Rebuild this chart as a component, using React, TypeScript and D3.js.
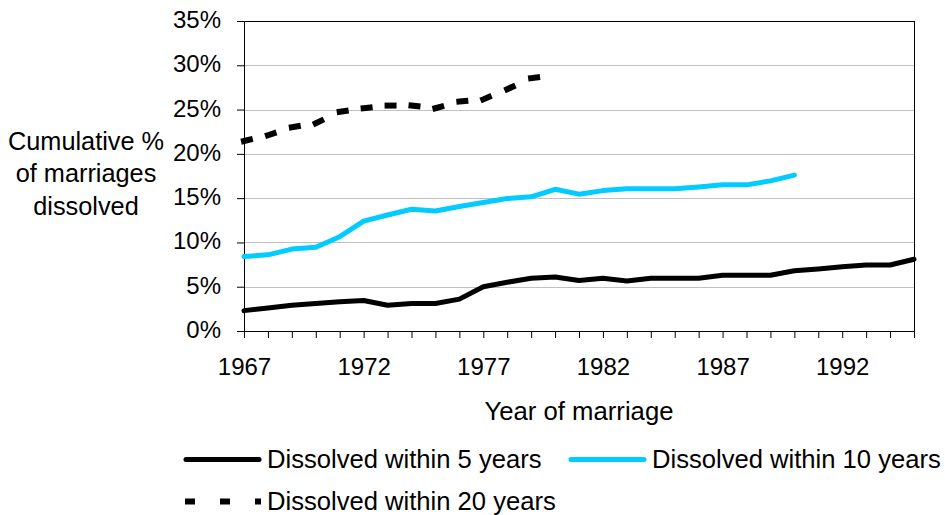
import React, { useEffect, useRef } from "react";
import * as d3 from "d3";

const years = [
  1967, 1968, 1969, 1970, 1971, 1972, 1973, 1974, 1975, 1976, 1977, 1978, 1979, 1980,
  1981, 1982, 1983, 1984, 1985, 1986, 1987, 1988, 1989, 1990, 1991, 1992, 1993, 1994, 1995,
];

// cumulative % of marriages dissolved, by year of marriage
const within5 = [
  2.3, 2.6, 2.9, 3.1, 3.3, 3.45, 2.9, 3.1, 3.1, 3.6, 5.0, 5.5, 5.95, 6.1,
  5.7, 5.95, 5.65, 5.95, 5.95, 5.95, 6.3, 6.3, 6.3, 6.8, 7.0, 7.25, 7.45, 7.45, 8.1,
];
const within10 = [
  8.4, 8.6, 9.25, 9.45, 10.65, 12.4, 13.1, 13.75, 13.55, 14.05, 14.5, 14.95, 15.15, 16.0,
  15.45, 15.85, 16.05, 16.05, 16.05, 16.25, 16.5, 16.5, 16.95, 17.6,
];
const within20 = [
  21.45, 22.1, 23.0, 23.45, 24.75, 25.15, 25.45, 25.45, 25.15, 25.9, 26.15, 27.3, 28.55, 28.9,
];

const yTicks = [0, 5, 10, 15, 20, 25, 30, 35];
const xTickLabels = [1967, 1972, 1977, 1982, 1987, 1992];
const titleLines = ["Cumulative %", "of marriages", "dissolved"];
const seriesNames = [
  "Dissolved within 5 years",
  "Dissolved within 10 years",
  "Dissolved within 20 years",
];

export default function App() {
  const svgRef = useRef<SVGSVGElement>(null);

  useEffect(() => {
    const font = "'Liberation Sans', Arial, sans-serif";
    const svg = d3.select(svgRef.current);
    svg.selectAll("*").remove();

    const x = d3.scaleLinear().domain([1967, 1995]).range([244, 914]);
    const y = d3.scaleLinear().domain([0, 35]).range([331, 21]);

    // gridlines
    svg
      .append("g")
      .selectAll("line")
      .data(yTicks.filter((t) => t > 0 && t < 35))
      .join("line")
      .attr("x1", x(1967))
      .attr("x2", x(1995))
      .attr("y1", (d) => Math.round(y(d)) + 0.5)
      .attr("y2", (d) => Math.round(y(d)) + 0.5)
      .attr("stroke", "#c0c0c0");

    // plot border
    svg
      .append("rect")
      .attr("x", x(1967) + 0.5)
      .attr("y", y(35) + 0.5)
      .attr("width", x(1995) - x(1967))
      .attr("height", y(0) - y(35))
      .attr("fill", "none")
      .attr("stroke", "#000");

    // y axis
    const yAxis = d3
      .axisLeft(y)
      .tickValues(yTicks)
      .tickSize(7)
      .tickPadding(16)
      .tickFormat((d) => d + "%");
    const gy = svg.append("g").attr("transform", `translate(${x(1967)},0)`).call(yAxis);
    gy.select(".domain").remove();
    gy.selectAll("line").attr("stroke", "#000");
    gy.selectAll("text")
      .attr("font-family", font)
      .attr("font-size", 24)
      .attr("fill", "#000")
      .attr("dy", "0.27em");

    // x axis
    const xAxis = d3
      .axisBottom(x)
      .tickValues(years)
      .tickSize(7)
      .tickPadding(20)
      .tickFormat((d) => (xTickLabels.includes(+d) ? String(d) : ""));
    const gx = svg.append("g").attr("transform", `translate(0,${y(0)})`).call(xAxis);
    gx.select(".domain").remove();
    gx.selectAll("line").attr("stroke", "#000");
    gx.selectAll("text")
      .attr("font-family", font)
      .attr("font-size", 24)
      .attr("fill", "#000");

    const line = d3
      .line<[number, number]>()
      .x((d) => x(d[0]))
      .y((d) => y(d[1]));
    const pts = (vals: number[]) => vals.map((v, i) => [years[i], v] as [number, number]);

    // dashed series: dash pattern restarts at each data point
    svg
      .append("g")
      .selectAll("path")
      .data(d3.pairs(pts(within20)))
      .join("path")
      .attr("d", (d) => line(d))
      .attr("fill", "none")
      .attr("stroke", "#000")
      .attr("stroke-width", 6)
      .attr("stroke-linecap", "square")
      .attr("stroke-dasharray", "6,60");

    svg
      .append("path")
      .datum(pts(within10))
      .attr("d", line)
      .attr("fill", "none")
      .attr("stroke", "#00ccff")
      .attr("stroke-width", 5)
      .attr("stroke-linecap", "round")
      .attr("stroke-linejoin", "round");

    svg
      .append("path")
      .datum(pts(within5))
      .attr("d", line)
      .attr("fill", "none")
      .attr("stroke", "#000")
      .attr("stroke-width", 5)
      .attr("stroke-linecap", "round")
      .attr("stroke-linejoin", "round");

    // y title
    svg
      .append("text")
      .attr("font-family", font)
      .attr("font-size", 25.3)
      .attr("text-anchor", "middle")
      .selectAll("tspan")
      .data(titleLines)
      .join("tspan")
      .attr("x", 86)
      .attr("y", (_, i) => 149.5 + i * 32.5)
      .text((d) => d);

    // x title
    svg
      .append("text")
      .attr("x", (x(1967) + x(1995)) / 2)
      .attr("y", 420)
      .attr("font-family", font)
      .attr("font-size", 25.7)
      .attr("text-anchor", "middle")
      .text("Year of marriage");

    // legend
    const legend = [
      { name: seriesNames[0], x1: 186, x2: 259, ly: 459.5, color: "#000", dash: null },
      { name: seriesNames[1], x1: 571, x2: 644, ly: 459.5, color: "#00ccff", dash: null },
      { name: seriesNames[2], x1: 185, x2: 261, ly: 501.5, color: "#000", dash: "10,25" },
    ];
    const lg = svg.append("g").selectAll("g").data(legend).join("g");
    lg.append("line")
      .attr("x1", (d) => d.x1)
      .attr("x2", (d) => d.x2)
      .attr("y1", (d) => d.ly)
      .attr("y2", (d) => d.ly)
      .attr("stroke", (d) => d.color)
      .attr("stroke-width", (d) => (d.dash ? 6 : 5))
      .attr("stroke-linecap", (d) => (d.dash ? "butt" : "round"))
      .attr("stroke-dasharray", (d) => d.dash);
    lg.append("text")
      .attr("x", (d) => (d.dash ? d.x2 + 6 : d.x2 + 8))
      .attr("y", (d) => d.ly + 8.5)
      .attr("font-family", font)
      .attr("font-size", 25.6)
      .text((d) => d.name);
  }, []);

  return (
    <svg
      ref={svgRef}
      width={945}
      height={515}
      style={{ position: "absolute", left: 0, top: 0, background: "#fff" }}
    />
  );
}
